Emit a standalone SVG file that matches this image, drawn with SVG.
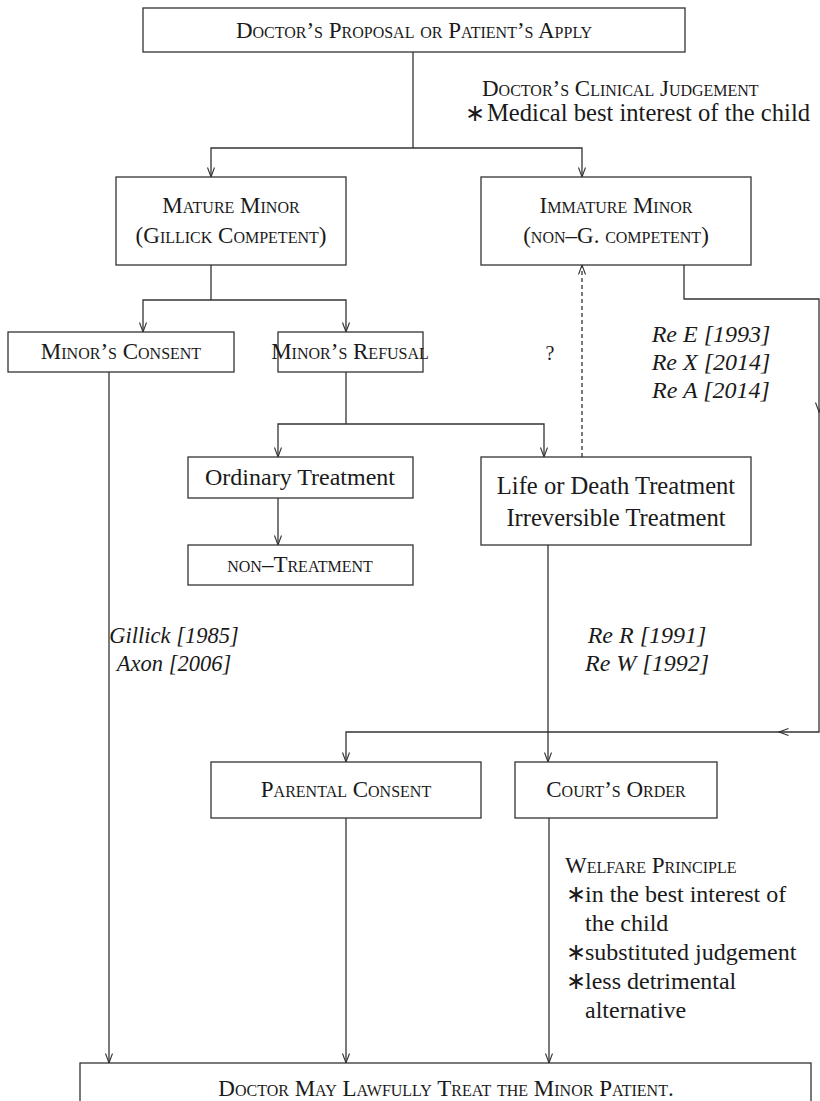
<svg xmlns="http://www.w3.org/2000/svg" width="820" height="1101" viewBox="0 0 820 1101">
<style>
.box{fill:#fff;stroke:#333;stroke-width:1.3}
.sc{font-family:"Liberation Serif",serif;font-variant:small-caps;font-size:23px;fill:#1a1a1a;text-anchor:middle}
.t{font-family:"Liberation Serif",serif;font-size:24px;fill:#1a1a1a;text-anchor:middle}
.it{font-style:italic}
.l{text-anchor:start}
.e{fill:none;stroke:#333;stroke-width:1.3}
.d{stroke-dasharray:4 3}
</style>
<defs>
<marker id="ah" markerWidth="12" markerHeight="10" refX="10" refY="4" orient="auto" markerUnits="userSpaceOnUse">
<path d="M0.5,0.5 L10,4 L0.5,7.5" fill="none" stroke="#333" stroke-width="1.1"/>
</marker>
</defs>
<rect width="820" height="1101" fill="#fff"/>
<g id="connectors">
<path class="e" d="M413,52 V148"/>
<path class="e" d="M413,148 H211 V177" marker-end="url(#ah)"/>
<path class="e" d="M413,148 H582 V177" marker-end="url(#ah)"/>
<path class="e" d="M211,265 V300"/>
<path class="e" d="M211,300 H143 V332" marker-end="url(#ah)"/>
<path class="e" d="M211,300 H346 V332" marker-end="url(#ah)"/>
<path class="e" d="M346,372 V424"/>
<path class="e" d="M346,424 H278 V457" marker-end="url(#ah)"/>
<path class="e" d="M346,424 H544 V457" marker-end="url(#ah)"/>
<path class="e" d="M278,498 V545" marker-end="url(#ah)"/>
<path class="e d" d="M582,457 V265" marker-end="url(#ah)"/>
<path class="e" d="M684,265 V299 H819 V412" marker-end="url(#ah)"/>
<path class="e" d="M819,410 V732 H779" marker-end="url(#ah)"/>
<path class="e" d="M781,732 H346 V762" marker-end="url(#ah)"/>
<path class="e" d="M548,545 V762" marker-end="url(#ah)"/>
<path class="e" d="M109,372 V1063" marker-end="url(#ah)"/>
<path class="e" d="M346,818 V1063" marker-end="url(#ah)"/>
<path class="e" d="M549,818 V1063" marker-end="url(#ah)"/>
</g>
<g id="n-start"><rect class="box" x="143" y="8" width="542" height="44"/><text class="sc" x="414" y="38">Doctor’s Proposal or Patient’s Apply</text></g>
<g id="lbl-judgement"><text class="sc l" x="482" y="96">Doctor’s Clinical Judgement</text><text class="t l" x="465" y="121">∗</text><text class="t l" x="487" y="121" style="font-size:24.6px">Medical best interest of the child</text></g>
<g id="n-mature"><rect class="box" x="116" y="177" width="230" height="88"/><text class="sc" x="231" y="213">Mature Minor</text><text class="sc" x="231" y="243">(Gillick Competent)</text></g>
<g id="n-immature"><rect class="box" x="481" y="177" width="270" height="88"/><text class="sc" x="616" y="213">Immature Minor</text><text class="sc" x="616" y="243">(non–G. competent)</text></g>
<g id="n-consent"><rect class="box" x="8" y="332" width="226" height="40"/><text class="sc" x="121" y="359">Minor’s Consent</text></g>
<g id="n-refusal"><rect class="box" x="278" y="332" width="145" height="40"/><text class="sc" x="350" y="359">Minor’s Refusal</text></g>
<g id="lbl-q"><text class="t" x="550" y="360" style="font-size:20px">?</text></g>
<g id="lbl-reE"><text class="t it" x="711" y="342">Re E [1993]</text><text class="t it" x="711" y="370">Re X [2014]</text><text class="t it" x="711" y="398">Re A [2014]</text></g>
<g id="n-ordinary"><rect class="box" x="188" y="457" width="225" height="41"/><text class="t" x="300" y="485">Ordinary Treatment</text></g>
<g id="n-nontreat"><rect class="box" x="188" y="545" width="225" height="40"/><text class="sc" x="300" y="572">non–Treatment</text></g>
<g id="n-life"><rect class="box" x="481" y="457" width="270" height="88"/><text class="t" x="616" y="494" style="font-size:24.6px">Life or Death Treatment</text><text class="t" x="616" y="526" style="font-size:24.6px">Irreversible Treatment</text></g>
<g id="lbl-gillick"><text class="t it" x="174" y="643" style="font-size:22.5px">Gillick [1985]</text><text class="t it" x="174" y="671" style="font-size:22.5px">Axon [2006]</text></g>
<g id="lbl-reR"><text class="t it" x="647" y="643">Re R [1991]</text><text class="t it" x="647" y="671">Re W [1992]</text></g>
<g id="n-parental"><rect class="box" x="211" y="762" width="270" height="56"/><text class="sc" x="346" y="797">Parental Consent</text></g>
<g id="n-court"><rect class="box" x="515" y="762" width="202" height="56"/><text class="sc" x="616" y="797">Court’s Order</text></g>
<g id="lbl-welfare">
<text class="sc l" x="565" y="873">Welfare Principle</text>
<text class="t l" x="566" y="902">∗</text><text class="t l" x="585" y="902">in the best interest of</text>
<text class="t l" x="585" y="931">the child</text>
<text class="t l" x="566" y="960">∗</text><text class="t l" x="585" y="960">substituted judgement</text>
<text class="t l" x="566" y="989">∗</text><text class="t l" x="585" y="989">less detrimental</text>
<text class="t l" x="585" y="1018">alternative</text>
</g>
<g id="n-end"><rect class="box" x="80" y="1063" width="731" height="45"/><text class="sc" x="446" y="1096">Doctor May Lawfully Treat the Minor Patient.</text></g>
</svg>
